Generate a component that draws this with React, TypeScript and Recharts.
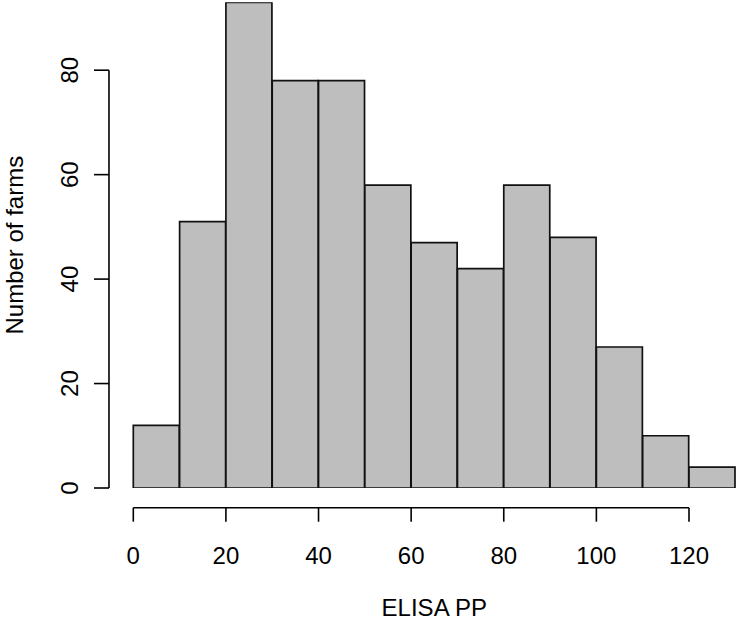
import React from 'react';
import { BarChart, Bar, XAxis, YAxis, ReferenceLine } from 'recharts';

const binStarts = [0, 10, 20, 30, 40, 50, 60, 70, 80, 90, 100, 110, 120];
const counts = [12, 51, 93, 78, 78, 58, 47, 42, 58, 48, 27, 10, 4];
const xTicks = [0, 20, 40, 60, 80, 100, 120];
const yTicks = [0, 20, 40, 60, 80];
const xLabel = 'ELISA PP';
const yLabel = 'Number of farms';

const data = binStarts.map((s, i) => ({ bin: `${s}-${s + 10}`, mid: s + 5, count: counts[i] }));

const FONT = '"Liberation Sans", Arial, Helvetica, sans-serif';

const XTick = (props: any) => {
  const { x, y, payload } = props;
  return (
    <g>
      <line x1={x} x2={x} y1={y + 19.7} y2={y + 33.7} stroke="#000" strokeWidth={1.6} />
      <text x={x} y={y + 76} textAnchor="middle" fontSize={24} fontFamily={FONT} fill="#000">
        {payload.value}
      </text>
    </g>
  );
};

const YTick = (props: any) => {
  const { x, y, payload } = props;
  return (
    <g>
      <line x1={x - 39.3} x2={x - 24.3} y1={y} y2={y} stroke="#000" strokeWidth={1.6} />
      <text
        x={x - 55.3}
        y={y}
        textAnchor="middle"
        fontSize={24}
        fontFamily={FONT}
        fill="#000"
        transform={`rotate(-90, ${x - 55.3}, ${y})`}
      >
        {payload.value}
      </text>
    </g>
  );
};

const XTitle = (props: any) => {
  const vb = props.viewBox;
  return (
    <text x={vb.x + vb.width / 2} y={vb.y + 128} textAnchor="middle" fontSize={24} fontFamily={FONT} fill="#000">
      {xLabel}
    </text>
  );
};

const YTitle = (props: any) => {
  const vb = props.viewBox;
  const cy = vb.y + vb.height / 2;
  return (
    <text x={23} y={cy} textAnchor="middle" fontSize={24} fontFamily={FONT} fill="#000" transform={`rotate(-90, 23, ${cy})`}>
      {yLabel}
    </text>
  );
};

export default function App() {
  return (
    <div style={{ position: 'absolute', left: 0, top: 0, width: 738, height: 623, background: '#fff' }}>
      <BarChart
        width={738}
        height={623}
        data={data}
        margin={{ top: 2.3, right: 2.7, left: 0, bottom: 0 }}
        barCategoryGap={0}
        barGap={0}
      >
        <XAxis xAxisId="cat" dataKey="bin" hide height={0} />
        <XAxis
          xAxisId="num"
          type="number"
          dataKey="mid"
          domain={[0, 130]}
          ticks={xTicks}
          allowDataOverflow
          axisLine={false}
          tickLine={false}
          tickSize={0}
          tickMargin={0}
          height={135}
          tick={<XTick />}
          interval={0}
          label={<XTitle />}
        />
        <YAxis
          type="number"
          domain={[0, 93]}
          ticks={yTicks}
          allowDataOverflow
          axisLine={false}
          tickLine={false}
          tickSize={0}
          tickMargin={0}
          width={133.3}
          tick={<YTick />}
          interval={0}
          label={<YTitle />}
        />
        <Bar
          xAxisId="cat"
          dataKey="count"
          fill="#bebebe"
          stroke="#111"
          strokeWidth={1.7}
          isAnimationActive={false}
        />
        <ReferenceLine
          xAxisId="num"
          segment={[{ x: 0, y: -3.77 }, { x: 120, y: -3.77 }]}
          stroke="#000"
          strokeWidth={1.6}
          ifOverflow="visible"
        />
        <ReferenceLine
          xAxisId="num"
          segment={[{ x: -5.25, y: 0 }, { x: -5.25, y: 80 }]}
          stroke="#000"
          strokeWidth={1.6}
          ifOverflow="visible"
        />
      </BarChart>
    </div>
  );
}
